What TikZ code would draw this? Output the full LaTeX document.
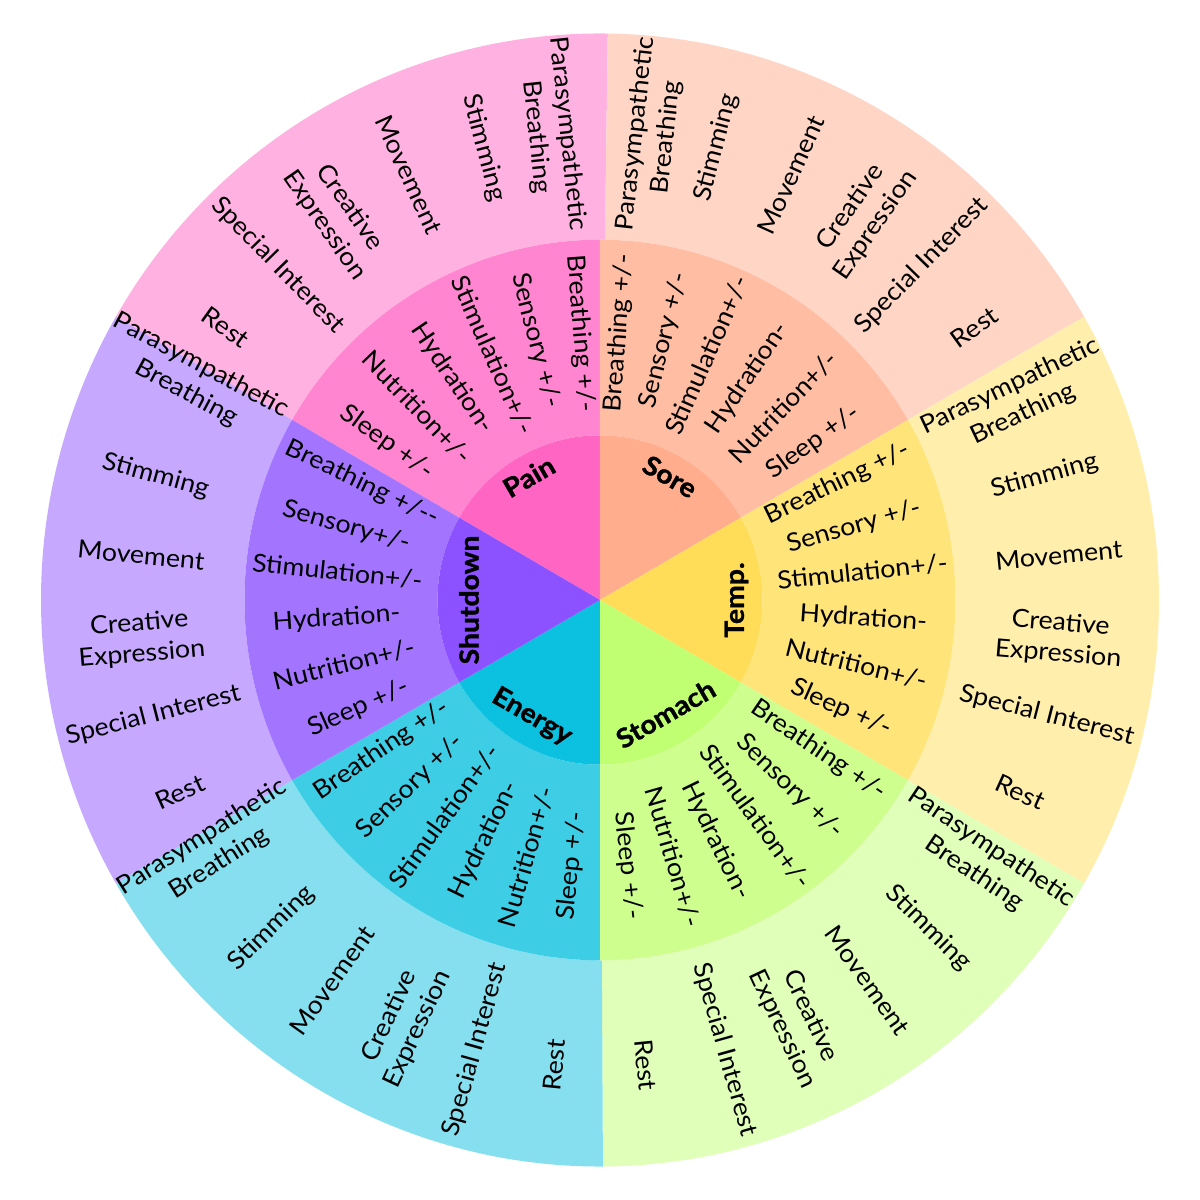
\documentclass[tikz,border=0pt]{standalone}
\usepackage{fontspec}
\setmainfont{Lato}[FakeStretch=1.07, BoldFeatures={FakeBold=1.2}]
\definecolor{cPain}{HTML}{FF66C4}
\definecolor{cSore}{HTML}{FFAD8C}
\definecolor{cTemp}{HTML}{FFDD59}
\definecolor{cStom}{HTML}{C1FF72}
\definecolor{cEner}{HTML}{0CC0DF}
\definecolor{cShut}{HTML}{8C52FF}
\newcommand\wheelsec[5]{\fill[#1] (#2:#4) arc[start angle=#2, end angle=#3, radius=#4pt] -- (#3:#5) arc[start angle=#3, end angle=#2, radius=#5pt] -- cycle;}
\newcommand\wheelcore[4]{\fill[#1] (0,0) -- (#2:#4) arc[start angle=#2, end angle=#3, radius=#4pt] -- cycle;}
\newcommand\midR[3]{\node[midlab,rotate=#2] (#1) at (#2:264) {#3};}
\newcommand\midL[3]{\node[midlab,rotate=#2+180] (#1) at (#2:264) {#3};}
\newcommand\outR[3]{\node[outlab,rotate=#2] (#1) at (#2:461) {#3};}
\newcommand\outL[3]{\node[outlab,rotate=#2+180] (#1) at (#2:461) {#3};}
\begin{document}
\begin{tikzpicture}[x=1pt,y=1pt,
  midlab/.style={font=\fontsize{25}{30}\selectfont, inner sep=0pt, text=black},
  outlab/.style={font=\fontsize{25}{31}\selectfont, align=center, inner sep=0pt, text=black},
  catlab/.style={font=\fontsize{26.5}{30}\selectfont\bfseries, inner sep=0pt, text=black}]
\fill[white] (-600,-600) rectangle (600,600);
\useasboundingbox (-600,-600) rectangle (600,600);
\begin{scope}[yscale=1.0135]
% outer ring
\wheelsec{cPain!50!white}{89.2}{150}{355.5}{559}
\wheelsec{cSore!50!white}{30}{89.2}{355.5}{559}
\wheelsec{cTemp!50!white}{-30}{30}{355.5}{559}
\wheelsec{cStom!50!white}{-89.7}{-30}{355.5}{559}
\wheelsec{cEner!50!white}{-150}{-89.7}{355.5}{559}
\wheelsec{cShut!50!white}{150}{210}{355.5}{559}
% middle ring
\wheelsec{cPain!80!white}{90}{150}{162.5}{355.5}
\wheelsec{cSore!80!white}{30}{90}{162.5}{355.5}
\wheelsec{cTemp!80!white}{-30}{30}{162.5}{355.5}
\wheelsec{cStom!80!white}{-90}{-30}{162.5}{355.5}
\wheelsec{cEner!80!white}{-150}{-90}{162.5}{355.5}
\wheelsec{cShut!80!white}{150}{210}{162.5}{355.5}
% core
\wheelcore{cPain}{90}{150}{162.5}
\wheelcore{cSore}{30}{90}{162.5}
\wheelcore{cTemp}{-30}{30}{162.5}
\wheelcore{cStom}{-90}{-30}{162.5}
\wheelcore{cEner}{-150}{-90}{162.5}
\wheelcore{cShut}{150}{210}{162.5}
% category labels
\node[catlab,rotate=30] (pain) at (120.3:141) {Pain};
\node[catlab,rotate=-30] (sore) at (60.1:140.5) {Sore};
\node[catlab,rotate=90] (temp) at (0:136.5) {Temp.};
\node[catlab,rotate=30] (stom) at (-59.7:130) {Stomach};
\node[catlab,rotate=-30] (ener) at (-120.6:134) {Energy};
\node[catlab,rotate=90] (shut) at (180:131) {Shutdown};
% Pain
\midL{pm1}{94.2}{Breathing +/-}
\midL{pm2}{104.1}{Sensory +/-}
\midL{pm3}{113.9}{Stimulation+/-}
\midL{pm4}{124}{Hydration-}
\midL{pm5}{133.9}{Nutrition+/-}
\midL{pm6}{143.9}{Sleep +/-}
\outL{po1}{96}{Parasympathetic\\Breathing}
\outL{po2}{104.6}{Stimming}
\outL{po3}{114.5}{Movement}
\outL{po4}{124.8}{Creative\\Expression}
\outL{po5}{134.3}{Special Interest}
\outL{po6}{144.3}{Rest}
% Sore
\midR{sm1}{85.8}{Breathing +/-}
\midR{sm2}{75.9}{Sensory +/-}
\midR{sm3}{66.1}{Stimulation+/-}
\midR{sm4}{56}{Hydration-}
\midR{sm5}{46.1}{Nutrition+/-}
\midR{sm6}{36.1}{Sleep +/-}
\outR{so1}{83.6}{Parasympathetic\\Breathing}
\outR{so2}{75.4}{Stimming}
\outR{so3}{65.5}{Movement}
\outR{so4}{55.2}{Creative\\Expression}
\outR{so5}{45.7}{Special Interest}
\outR{so6}{35.7}{Rest}
% Temp
\midR{tm1}{25.8}{Breathing +/-}
\midR{tm2}{15.9}{Sensory +/-}
\midR{tm3}{6.1}{Stimulation+/-}
\midR{tm4}{-4}{Hydration-}
\midR{tm5}{-13.9}{Nutrition+/-}
\midR{tm6}{-23.9}{Sleep +/-}
\outR{to1}{25.3}{Parasympathetic\\Breathing}
\outR{to2}{15.4}{Stimming}
\outR{to3}{5.5}{Movement}
\outR{to4}{-4.8}{Creative\\Expression}
\outR{to5}{-14.3}{Special Interest}
\outR{to6}{-24.3}{Rest}
% Stomach
\midR{gm1}{-34.2}{Breathing +/-}
\midR{gm2}{-44.1}{Sensory +/-}
\midR{gm3}{-53.9}{Stimulation+/-}
\midR{gm4}{-64}{Hydration-}
\midR{gm5}{-73.9}{Nutrition+/-}
\midR{gm6}{-83.9}{Sleep +/-}
\outR{go1}{-33.9}{Parasympathetic\\Breathing}
\outR{go2}{-44.6}{Stimming}
\outR{go3}{-54.5}{Movement}
\outR{go4}{-64.8}{Creative\\Expression}
\outR{go5}{-74.3}{Special Interest}
\outR{go6}{-84.3}{Rest}
% Energy
\midL{em1}{-145.8}{Breathing +/-}
\midL{em2}{-135.9}{Sensory +/-}
\midL{em3}{-126.1}{Stimulation+/-}
\midL{em4}{-116}{Hydration-}
\midL{em5}{-106.1}{Nutrition+/-}
\midL{em6}{-96.1}{Sleep +/-}
\outL{eo1}{-147.6}{Parasympathetic\\Breathing}
\outL{eo2}{-135.4}{Stimming}
\outL{eo3}{-125.5}{Movement}
\outL{eo4}{-115.2}{Creative\\Expression}
\outL{eo5}{-105.7}{Special Interest}
\outL{eo6}{-95.7}{Rest}
% Shutdown
\midL{dm1}{154.2}{Breathing +/-{}-}
\midL{dm2}{164.1}{Sensory+/-}
\midL{dm3}{173.9}{Stimulation+/-}
\midL{dm4}{184}{Hydration-}
\midL{dm5}{193.9}{Nutrition+/-}
\midL{dm6}{203.9}{Sleep +/-}
\outL{do1}{151.8}{Parasympathetic\\Breathing}
\outL{do2}{164.6}{Stimming}
\outL{do3}{174.5}{Movement}
\outL{do4}{184.8}{Creative\\Expression}
\outL{do5}{194.3}{Special Interest}
\outL{do6}{204.3}{Rest}
\end{scope}
\end{tikzpicture}
\end{document}
